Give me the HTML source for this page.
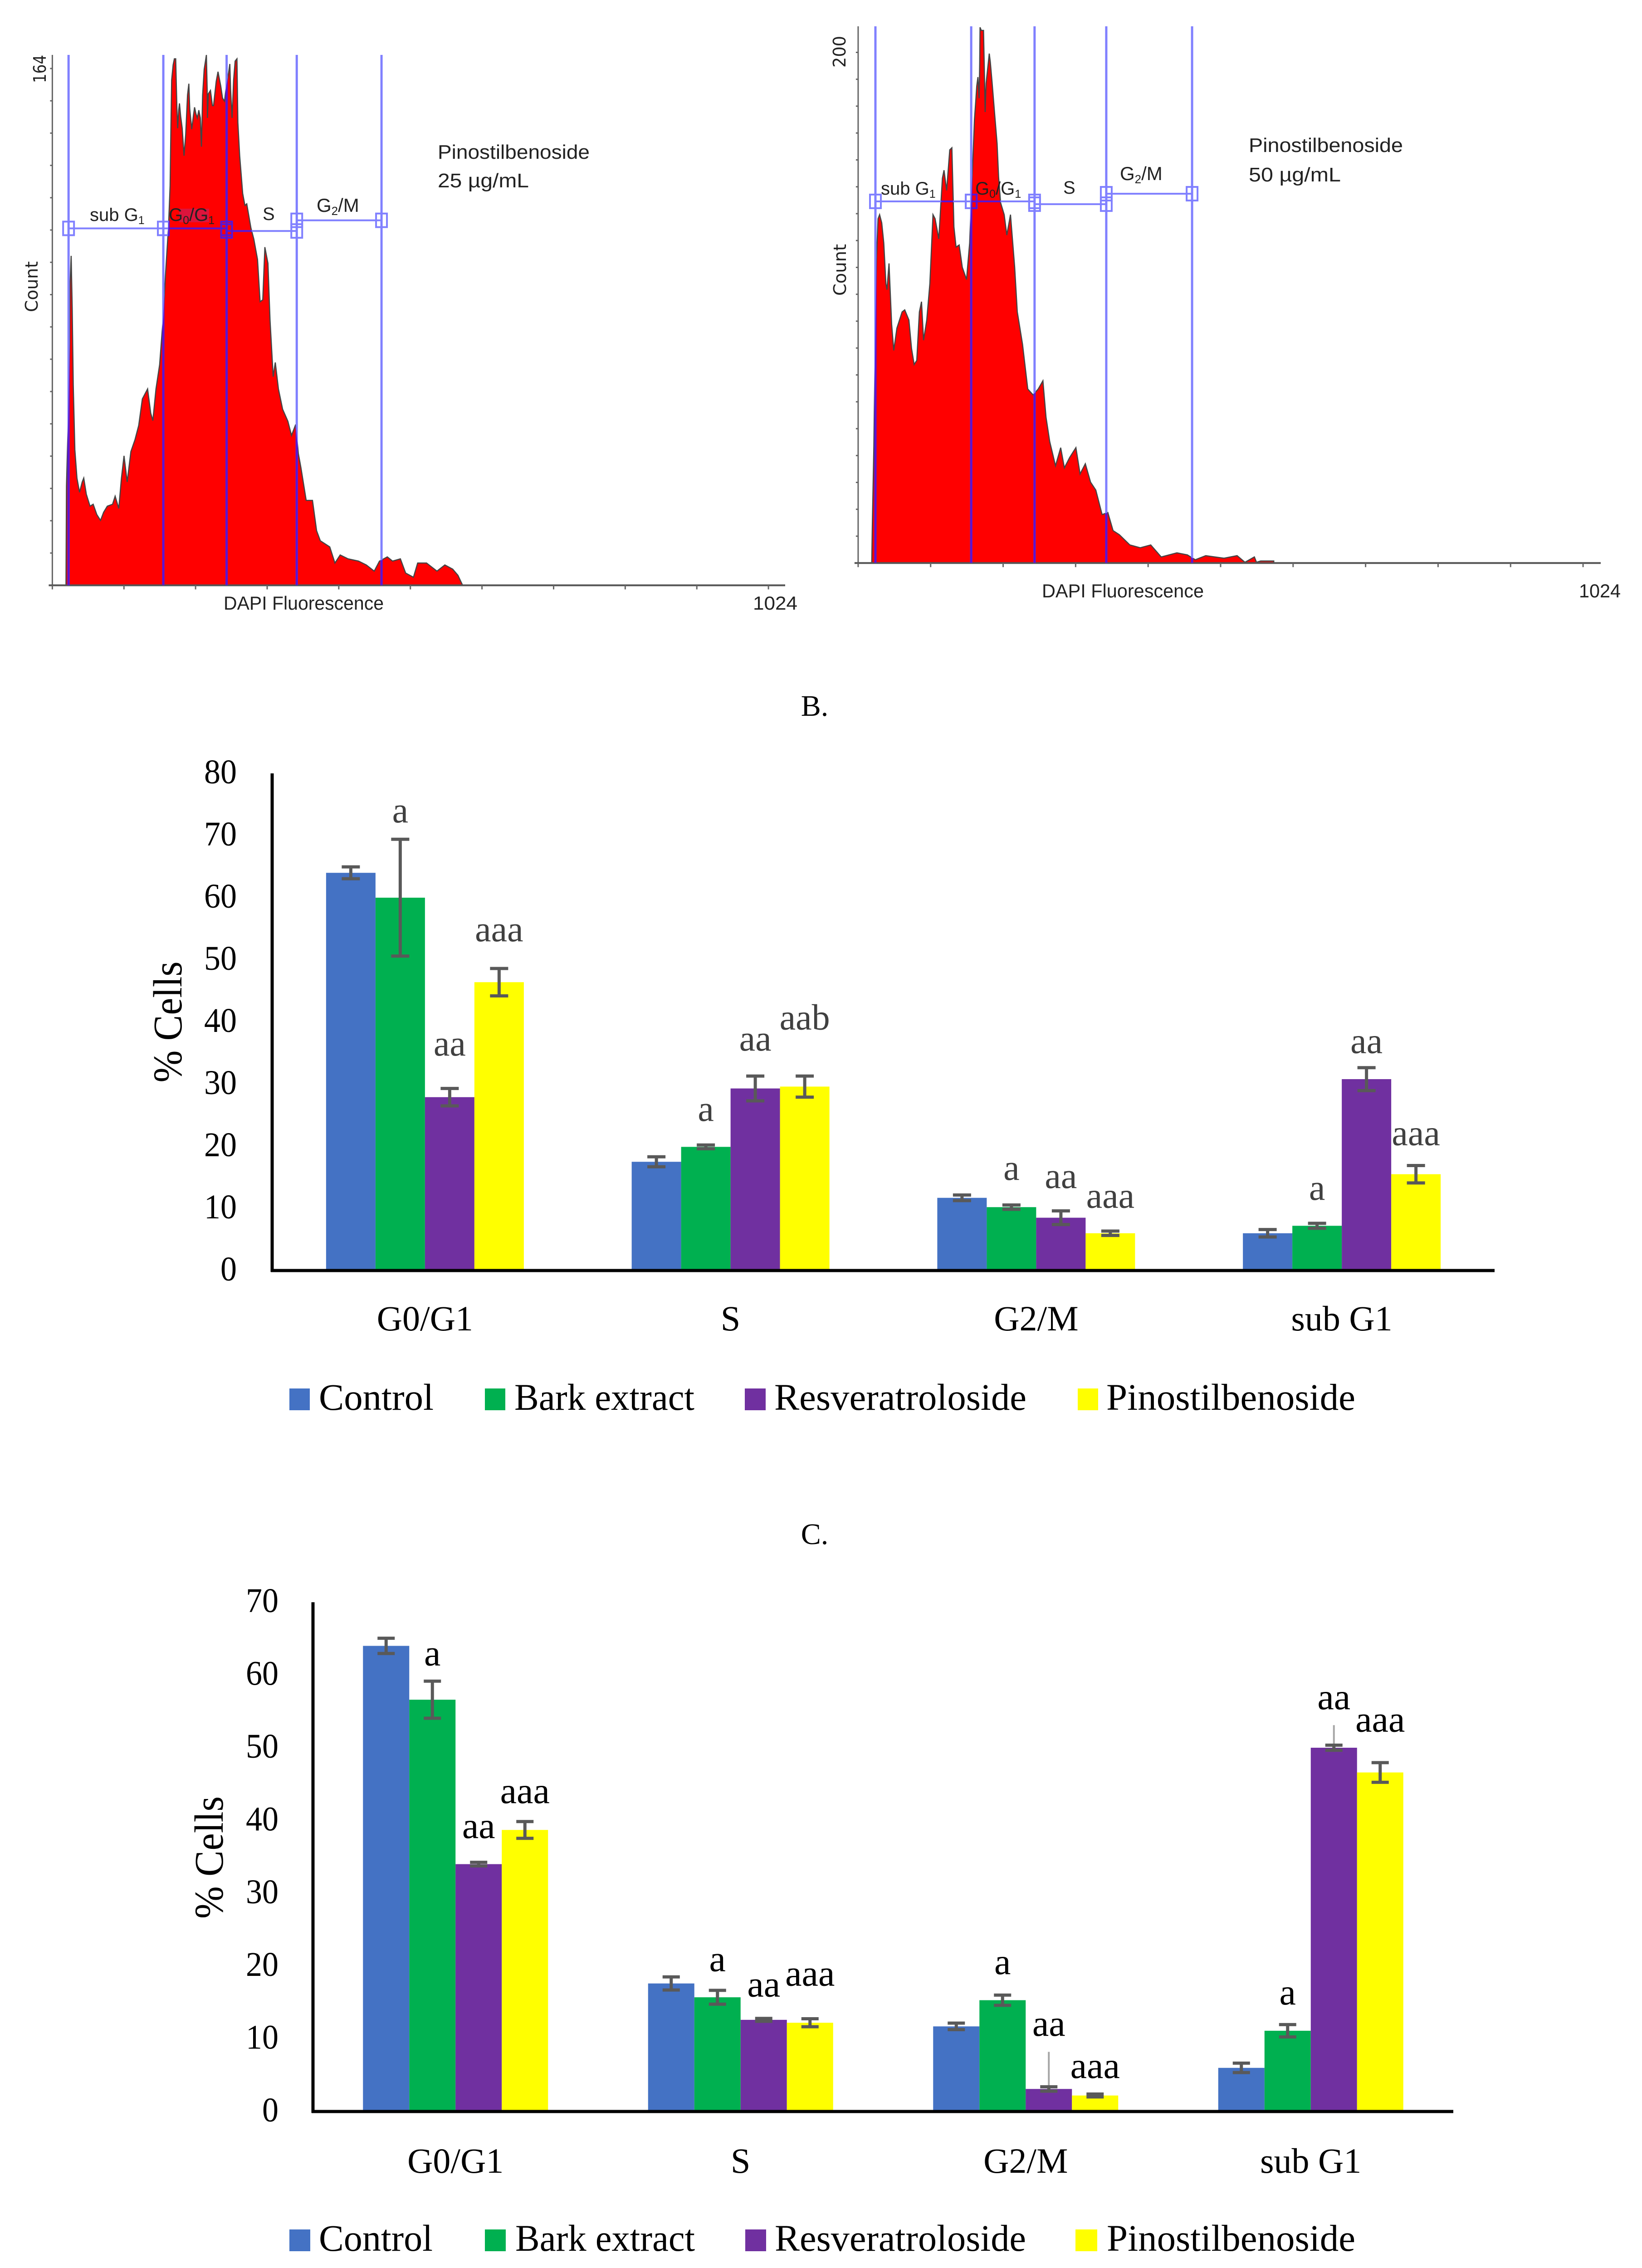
<!DOCTYPE html>
<html lang="en">
<head>
<meta charset="utf-8">
<title>Cell cycle analysis charts</title>
<style>
html,body{margin:0;padding:0;background:#fff;}
svg{display:block;}
.serif{font-family:"Liberation Serif",serif;}
.sans{font-family:"Liberation Sans",sans-serif;}
.wide{font-family:"DejaVu Sans",sans-serif;}
</style>
</head>
<body>
<svg id="figure" xmlns="http://www.w3.org/2000/svg" width="3620" height="5000" viewBox="0 0 3620 5000">
  <rect x="0" y="0" width="3620" height="5000" fill="#ffffff"/>

  <g id="flow-left"></g>
  <g id="flow-right"></g>

  <g class="sans" fill="#222">
    <rect x="395" y="460" width="66" height="30" fill="#dc143c"/>
    <text x="198" y="487" font-size="40">sub G<tspan font-size="25" dy="7">1</tspan></text>
    <text x="372" y="487" font-size="40">G<tspan font-size="25" dy="7">0</tspan><tspan dy="-7">/G</tspan><tspan font-size="25" dy="7">1</tspan></text>
    <text x="579" y="485" font-size="40">S</text>
    <text x="698" y="467" font-size="42">G<tspan font-size="26" dy="7">2</tspan><tspan dy="-7">/M</tspan></text>
    <text x="965" y="350" font-size="44" textLength="335" lengthAdjust="spacingAndGlyphs">Pinostilbenoside</text>
    <text x="965" y="413" font-size="44" textLength="201" lengthAdjust="spacingAndGlyphs">25 µg/mL</text>
    <text x="493" y="1344" font-size="42" textLength="353" lengthAdjust="spacingAndGlyphs">DAPI Fluorescence</text>
    <text x="1660" y="1344" font-size="42" textLength="98" lengthAdjust="spacingAndGlyphs">1024</text>
    <text class="wide" x="83" y="688" font-size="38" textLength="112" lengthAdjust="spacingAndGlyphs" transform="rotate(-90 83 688)">Count</text>
    <text class="wide" x="101" y="183" font-size="38" textLength="62" lengthAdjust="spacingAndGlyphs" transform="rotate(-90 101 183)">164</text>
  </g>

  <g class="sans" fill="#222">
    <text x="1942" y="429" font-size="40">sub G<tspan font-size="25" dy="7">1</tspan></text>
    <text x="2150" y="429" font-size="40">G<tspan font-size="25" dy="7">0</tspan><tspan dy="-7">/G</tspan><tspan font-size="25" dy="7">1</tspan></text>
    <text x="2344" y="427" font-size="40">S</text>
    <text x="2469" y="397" font-size="42">G<tspan font-size="26" dy="7">2</tspan><tspan dy="-7">/M</tspan></text>
    <text x="2753" y="335" font-size="44" textLength="340" lengthAdjust="spacingAndGlyphs">Pinostilbenoside</text>
    <text x="2753" y="400" font-size="44" textLength="203" lengthAdjust="spacingAndGlyphs">50 µg/mL</text>
    <text x="2297" y="1317" font-size="42" textLength="357" lengthAdjust="spacingAndGlyphs">DAPI Fluorescence</text>
    <text x="3481" y="1317" font-size="42" textLength="92" lengthAdjust="spacingAndGlyphs">1024</text>
    <text class="wide" x="1865" y="652" font-size="38" textLength="114" lengthAdjust="spacingAndGlyphs" transform="rotate(-90 1865 652)">Count</text>
    <text class="wide" x="1864" y="149" font-size="38" textLength="70" lengthAdjust="spacingAndGlyphs" transform="rotate(-90 1864 149)">200</text>
  </g>

  <text class="serif" x="1796" y="1578" font-size="66" text-anchor="middle" fill="#000">B.</text>
  <text class="serif" x="1796" y="3404" font-size="66" text-anchor="middle" fill="#000">C.</text>

  <g id="chart-b"></g>
  <g id="chart-c"></g>

  <text class="serif" x="400" y="2253" font-size="90" text-anchor="middle" textLength="267" lengthAdjust="spacingAndGlyphs" fill="#000" transform="rotate(-90 400 2253)">% Cells</text>
  <text class="serif" x="491" y="4095" font-size="90" text-anchor="middle" textLength="270" lengthAdjust="spacingAndGlyphs" fill="#000" transform="rotate(-90 491 4095)">% Cells</text>

  <g class="serif" font-size="83" fill="#000">
    <rect x="638" y="3061" width="45" height="48" fill="#4472c4"/>
    <text x="703" y="3108" textLength="253" lengthAdjust="spacingAndGlyphs">Control</text>
    <rect x="1069" y="3061" width="45" height="48" fill="#00b050"/>
    <text x="1134" y="3108" textLength="397" lengthAdjust="spacingAndGlyphs">Bark extract</text>
    <rect x="1642" y="3061" width="46" height="48" fill="#7030a0"/>
    <text x="1707" y="3108" textLength="556" lengthAdjust="spacingAndGlyphs">Resveratroloside</text>
    <rect x="2376" y="3061" width="45" height="48" fill="#ffff00"/>
    <text x="2439" y="3108" textLength="549" lengthAdjust="spacingAndGlyphs">Pinostilbenoside</text>
  </g>

  <g class="serif" font-size="83" fill="#000">
    <rect x="638" y="4915" width="46" height="48" fill="#4472c4"/>
    <text x="703" y="4962" textLength="251" lengthAdjust="spacingAndGlyphs">Control</text>
    <rect x="1069" y="4915" width="46" height="48" fill="#00b050"/>
    <text x="1136" y="4962" textLength="396" lengthAdjust="spacingAndGlyphs">Bark extract</text>
    <rect x="1643" y="4915" width="46" height="48" fill="#7030a0"/>
    <text x="1708" y="4962" textLength="554" lengthAdjust="spacingAndGlyphs">Resveratroloside</text>
    <rect x="2371" y="4915" width="48" height="48" fill="#ffff00"/>
    <text x="2440" y="4962" textLength="548" lengthAdjust="spacingAndGlyphs">Pinostilbenoside</text>
  </g>
</svg>

<script>
// ---------- Bar chart data ----------
const categories = ['G0/G1', 'S', 'G2/M', 'sub G1'];
const seriesKeys = ['control', 'bark-extract', 'resveratroloside', 'pinostilbenoside'];

const bTicks = [0, 10, 20, 30, 40, 50, 60, 70, 80];
const bControl = [64, 17.5, 11.7, 6];
const bBark = [60, 19.9, 10.2, 7.2];
const bResv = [27.9, 29.3, 8.5, 30.8];
const bPino = [46.4, 29.6, 6, 15.5];
const bControlErr = [0.95, 0.8, 0.45, 0.6];
const bBarkErr = [9.4, 0.3, 0.35, 0.4];
const bResvErr = [1.4, 2, 1.1, 1.85];
const bPinoErr = [2.2, 1.7, 0.35, 1.4];
const bBarkLabels = ['a', 'a', 'a', 'a'];
const bResvLabels = ['aa', 'aa', 'aa', 'aa'];
const bPinoLabels = ['aaa', 'aab', 'aaa', 'aaa'];
const bBarkLabelLevels = [72.1, 24.1, 14.6, 11.4];
const bResvLabelLevels = [34.6, 35.4, 13.3, 35];
const bPinoLabelLevels = [53, 38.8, 10.1, 20.2];

const cTicks = [0, 10, 20, 30, 40, 50, 60, 70];
const cControl = [64, 17.6, 11.7, 6];
const cBark = [56.6, 15.7, 15.3, 11.1];
const cResv = [34, 12.6, 3.1, 50];
const cPino = [38.7, 12.2, 2.2, 46.6];
const cControlErr = [1.05, 0.9, 0.45, 0.65];
const cBarkErr = [2.55, 0.95, 0.7, 0.85];
const cResvErr = [0.25, 0.2, 0.3, 0.35];
const cPinoErr = [1.15, 0.55, 0.2, 1.35];
const cBarkLabels = ['a', 'a', 'a', 'a'];
const cResvLabels = ['aa', 'aa', 'aa', 'aa'];
const cPinoLabels = ['aaa', 'aaa', 'aaa', 'aaa'];
const cBarkLabelLevels = [61.3, 19.3, 18.9, 14.7];
const cResvLabelLevels = [37.6, 15.8, 10.4, 55.3];
const cPinoLabelLevels = [42.4, 17.3, 4.6, 52.2];
const cResvLeaderTops = [null, null, 8.2, 53.1];

// ---------- Flow histogram data (channel, count) ----------
const leftChannels = [
19.5,20.2,22.5,24.7,25.4,26.9,28.4,29.9,32.2,35.2,
38.9,42.7,44.9,48.6,53.9,58.4,63.6,68.9,73.3,78.6,
86.1,89.8,95,98.8,102.5,107,112.3,118.2,123.5,128.7,
136.2,140.7,143.7,148.2,153.4,158.7,161.7,166.1,
168.4,169.5,170.6,172.7,174.5,176.4,178.1,179.2,180.7,181.8,
183.5,185.7,188.3,190.7,193.3,195.2,196.5,199.3,201.9,203.4,
205.2,207.3,209.5,211.6,213.2,214.9,217.1,220.3,221.4,221.8,
223.1,226.1,228.9,230.5,234.3,236.9,240.8,243.4,246.2,249,
252.1,253.8,254.9,257,259.2,261.4,264,265.3,267.9,272.2,
275.4,278,284,
288.1,293.4,297.1,300.9,303.9,
308.3,311.3,315.8,318.8,323.3,329.3,336.8,342,348,351.8,
355.5,363,372,377.9,383.2,396.7,404.1,411.6,422.8,437.8,
449,460.3,467.8,479,486.5,497.7,505.2,516.4,522.4,535.1,
550,561.3,572.5,580,586.7];
const leftCounts = [
0,30.7,49.5,74.6,93.4,102,85.9,62.1,42,33.2,
28.8,32,33.2,28.2,24.5,25.1,21.9,20.1,22.6,24.5,
25.1,27.6,23.8,33.2,40.1,32,41.4,45.1,49.5,57.7,
60.8,53.3,51,60.8,68.3,83.4,95.9,111,
123.7,141,156.4,161.1,163,163,148,141.5,147.1,149.2,
145.2,141.5,133,139.6,151.8,155.3,147.5,141.2,145.7,148,
146.1,144.7,147.1,144.7,135.8,151.8,159.7,164.2,153.6,144.7,
152.2,153.2,148.5,148.5,156,159,154.6,150.8,149.9,155,
158.8,161.4,153.6,144.7,156.4,162.3,163,143.3,133,121.3,
117.6,118.1,110.6,
107.2,100.9,87.8,88.4,104.7,
99.7,82.1,64.6,69,60.8,54.5,50.8,46.4,49.8,40.8,
36.4,26.3,26.3,16.9,13.8,11.9,6.9,9.4,8.2,7.5,
6.3,4.4,7.5,8.8,7.5,8.2,3.8,2.5,6.9,6.9,
4.4,6.3,5,3.1,0];
const leftGateChannels = [23.2, 158.7, 249.2, 349.5, 470.7];
const leftGateCounts = [110.5, 110.5, 109.7, 113];

const rightChannels = [
19.2,20,22.2,24.4,25.9,28.1,30.3,33.3,36.2,39.2,
40.7,43.6,47.3,50.3,54.7,62.1,65.8,71.7,75.4,79.1,
82.8,86.5,89.5,92.4,96.9,101.3,105.7,108.7,113.9,119,
121.3,125,129.4,132.4,135.3,138.3,142.7,147.1,153.1,157.5,
162.1,164.3,166.4,167.5,169.2,170.9,171.7,172.2,173.9,177.1,
178.2,179.4,180.7,183.5,185.2,186.7,189.3,193.1,196.3,198.4,201.2,
206.3,210,215.2,221.1,224.8,232.2,239.6,247,254.4,
261,265.4,270.6,278.8,286.1,291.3,298.7,303.9,307.6,313.5,
320.9,328.3,335.7,344.6,352.7,360.1,369,383.8,398.5,413.3,
428.1,450.3,465.1,476.2,491,516.8,535.3,546.4,559.7,562.7,
568.6,587.1,587.1];
const rightCounts = [
0,14.3,46,93.6,119,134.9,136.5,133.3,125.4,109.5,
107.1,117.4,93.6,83.3,92,98.4,99.2,95.2,84.1,77.8,
79.4,98.4,102.4,87.3,95.2,109.5,136.5,134.9,127,150.8,
153.9,146,161.9,162.7,131.7,123.8,124.6,115.9,111.1,125.4,
158.4,173.8,182.1,186.8,190.4,182.1,195.7,209.9,208.7,208.7,
193.9,176.7,188,195.1,199.6,196.3,188,175,164.3,151.3,141.2,
136.5,128.5,136.5,115.9,98.4,85.7,68.2,65.9,68.2,
71.4,57.1,47.6,38.1,45.2,37.3,41.3,43.6,45.2,34.9,
38.9,31.7,28.6,19,19.8,12.7,11.1,7.1,6,7.1,
2.4,4,3.2,1.3,2.9,1.9,2.9,0.3,2.4,0.3,
0.8,0.8,0];
const rightGateChannels = [24.4, 159.7, 249.2, 350.5, 471.7];
const rightGateCounts = [141.7, 141.7, 140.6, 144.7];

// ---------- Helpers ----------
const NS = 'http://www.w3.org/2000/svg';
function mk(parent, tag, props) {
  const el = document.createElementNS(NS, tag);
  for (const k in props) el.setAttribute(k, props[k]);
  parent.appendChild(el);
  return el;
}

// ---------- Bar chart renderer ----------
function drawBarChart(host, cfg) {
  const colors = ['#4472c4', '#00b050', '#7030a0', '#ffff00'];
  const catW = (cfg.x1 - cfg.x0) / categories.length;
  const xCenter = function (i) { return cfg.x0 + catW * (i + 0.5); };
  const barLeft = function (i, s) { return xCenter(i) - 2 * cfg.barW + s * cfg.barW; };
  const y = function (v) { return cfg.y0 - v * cfg.unit; };

  cfg.ticks.forEach(function (t) {
    const label = String(t);
    const tick = mk(host, 'text', {
      x: cfg.tickX, y: y(t) + cfg.tickDy, 'font-size': 76, 'text-anchor': 'end', fill: '#000',
      textLength: label.length * 36, lengthAdjust: 'spacingAndGlyphs',
      'font-family': '"Liberation Serif", serif'
    });
    
    
    tick.textContent = label;
  });

  cfg.values.forEach(function (series, s) {
    series.forEach(function (v, i) {
      const bar = mk(host, 'rect', {
        x: barLeft(i, s), y: y(v), width: cfg.barW, height: cfg.y0 - y(v), fill: colors[s]
      });
      
      
    });
  });

  if (cfg.leaders) {
    cfg.leaders.forEach(function (top, i) {
      if (top === null) return;
      const cx = barLeft(i, 2) + cfg.barW / 2;
      const leader = mk(host, 'line', {
        x1: cx, x2: cx, y1: y(top), y2: y(cfg.values[2][i]), stroke: '#a6a6a6', 'stroke-width': 4
      });
      
      
    });
  }

  cfg.errors.forEach(function (series, s) {
    series.forEach(function (e, i) {
      const cx = barLeft(i, s) + cfg.barW / 2;
      const v = cfg.values[s][i];
      const stem = mk(host, 'path', {
        d: 'M' + cx + ' ' + y(v + e) + 'V' + y(v - e) +
           'M' + (cx - cfg.cap) + ' ' + y(v + e) + 'H' + (cx + cfg.cap) +
           'M' + (cx - cfg.cap) + ' ' + y(v - e) + 'H' + (cx + cfg.cap),
        stroke: '#595959', 'stroke-width': 7, fill: 'none'
      });
      
      
    });
  });

  cfg.labels.forEach(function (series, idx) {
    const s = idx + 1;
    series.forEach(function (txt, i) {
      const lab = mk(host, 'text', {
        x: barLeft(i, s) + cfg.barW / 2, y: y(cfg.labelLevels[idx][i]),
        'font-size': cfg.labelSize, 'text-anchor': 'middle', fill: cfg.labelColor,
        'font-family': '"Liberation Serif", serif'
      });
      
      
      lab.textContent = txt;
    });
  });

  categories.forEach(function (c, i) {
    const lab = mk(host, 'text', {
      x: xCenter(i), y: cfg.catY, 'font-size': 78, 'text-anchor': 'middle', fill: '#000',
      'font-family': '"Liberation Serif", serif'
    });
    
    
    lab.textContent = c;
  });

  const yAxis = mk(host, 'line', {
    x1: cfg.x0, x2: cfg.x0, y1: y(cfg.ticks[cfg.ticks.length - 1]), y2: cfg.y0 + 3, stroke: '#000', 'stroke-width': 7
  });
  
  
  const xAxis = mk(host, 'line', {
    x1: cfg.x0 - 3, x2: cfg.x1, y1: cfg.y0, y2: cfg.y0, stroke: '#000', 'stroke-width': 7
  });
  
  
}

drawBarChart(document.getElementById('chart-b'), {
  x0: 600, x1: 3295, y0: 2801, unit: 13.7, barW: 109, cap: 20,
  ticks: bTicks, tickX: 522, tickDy: 22, catY: 2933, labelSize: 80, labelColor: '#404040',
  values: [bControl, bBark, bResv, bPino],
  errors: [bControlErr, bBarkErr, bResvErr, bPinoErr],
  labels: [bBarkLabels, bResvLabels, bPinoLabels],
  labelLevels: [bBarkLabelLevels, bResvLabelLevels, bPinoLabelLevels]
});

drawBarChart(document.getElementById('chart-c'), {
  x0: 690, x1: 3204, y0: 4655, unit: 16.04, barW: 102, cap: 19,
  ticks: cTicks, tickX: 614, tickDy: 22, catY: 4790, labelSize: 82, labelColor: '#000',
  values: [cControl, cBark, cResv, cPino],
  errors: [cControlErr, cBarkErr, cResvErr, cPinoErr],
  labels: [cBarkLabels, cResvLabels, cPinoLabels],
  labelLevels: [cBarkLabelLevels, cResvLabelLevels, cPinoLabelLevels],
  leaders: cResvLeaderTops
});

// ---------- Flow histogram renderer ----------
function drawFlow(host, cfg) {
  const x = function (ch) { return cfg.x0 + ch * cfg.xUnit; };
  const y = function (c) { return cfg.y0 - c * cfg.yUnit; };

  const pts = cfg.channels.map(function (ch, i) { return x(ch) + ',' + y(cfg.counts[i]); }).join(' ');
  const area = mk(host, 'polygon', { points: pts, fill: '#ff0000', stroke: '#444444', 'stroke-width': 2.5 });
  
  

  const yAxis = mk(host, 'line', { x1: cfg.x0, x2: cfg.x0, y1: cfg.yTop, y2: cfg.y0, stroke: '#666', 'stroke-width': 3 });
  
  
  const xAxis = mk(host, 'line', { x1: cfg.x0 - 8, x2: cfg.xRight, y1: cfg.y0, y2: cfg.y0, stroke: '#555', 'stroke-width': 4 });
  
  

  for (let c = cfg.yStep; y(c) > cfg.yTop + 10; c += cfg.yStep) {
    const t = mk(host, 'line', { x1: cfg.x0 - 5, x2: cfg.x0, y1: y(c), y2: y(c), stroke: '#666', 'stroke-width': 3 });
    
    
  }
  for (let ch = 0; ch <= 1024; ch += 102.4) {
    const t = mk(host, 'line', { x1: x(ch), x2: x(ch), y1: cfg.y0, y2: cfg.y0 + 9, stroke: '#666', 'stroke-width': 3 });
    
    
  }

  // Gates are drawn pale over white and again, clipped to the histogram, darker over red.
  const clip = mk(host, 'clipPath', { id: cfg.clipId });
  
  
  const clipShape = mk(clip, 'polygon', { points: pts });
  
  

  function drawGates(parent, color) {
    cfg.gateChannels.forEach(function (ch) {
      const v = mk(parent, 'line', { x1: x(ch), x2: x(ch), y1: cfg.yTop, y2: cfg.y0, stroke: color, 'stroke-width': 5 });
      
      
    });
    cfg.gateCounts.forEach(function (c, i) {
      const xa = x(cfg.gateChannels[i]);
      const xb = x(cfg.gateChannels[i + 1]);
      const h = mk(parent, 'line', { x1: xa, x2: xb, y1: y(c), y2: y(c), stroke: color, 'stroke-width': 4 });
      
      
      [xa, xb].forEach(function (hx) {
        const handle = mk(parent, 'rect', {
          x: hx - 12, y: y(c) - 15, width: 24, height: 30, fill: 'none', stroke: color, 'stroke-width': 4
        });
        
        
      });
    });
  }
  const paleGates = mk(host, 'g', {});
  
  
  drawGates(paleGates, '#8080ff');
  const darkGates = mk(host, 'g', { 'clip-path': 'url(#' + cfg.clipId + ')' });
  
  
  drawGates(darkGates, '#5a14d2');
}

drawFlow(document.getElementById('flow-left'), {
  x0: 115.4, xUnit: 1.5417, y0: 1290.4, yUnit: 7.121, yTop: 121, xRight: 1731, yStep: 10, clipId: 'clip-left',
  channels: leftChannels, counts: leftCounts,
  gateChannels: leftGateChannels, gateCounts: leftGateCounts
});
drawFlow(document.getElementById('flow-right'), {
  x0: 1891.9, xUnit: 1.5607, y0: 1241.3, yUnit: 5.627, yTop: 58, xRight: 3529, yStep: 10.53, clipId: 'clip-right',
  channels: rightChannels, counts: rightCounts,
  gateChannels: rightGateChannels, gateCounts: rightGateCounts
});
</script>
</body>
</html>
